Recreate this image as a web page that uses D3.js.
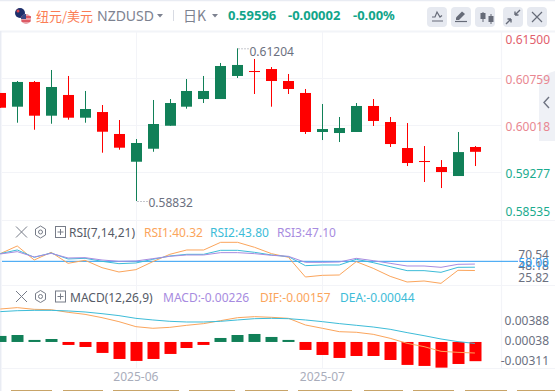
<!DOCTYPE html>
<html><head><meta charset="utf-8">
<script src="https://cdnjs.cloudflare.com/ajax/libs/d3/7.8.5/d3.min.js"></script>
<style>html,body{margin:0;padding:0;background:#fff}svg{display:block}text{font-family:"Noto Sans","Noto Sans CJK SC",sans-serif}</style>
</head><body><svg id="c" width="555" height="391"></svg>
<script>
const opens  =[.60510,.60297,.60681,.60157,.60479,.60126,.60214,.59873,.59442,.59644,.60001,.60297,.60416,.60416,.60774,.60851,.60882,.60696,.60510,.59904,.59888,.59904,.60308,.60059,.59655,.59453,.59360,.59220,.59671];
const highs  =[.60510,.60696,.60696,.60867,.60774,.60541,.60323,.60090,.59795,.60401,.60416,.60727,.60774,.60976,.61204,.61038,.60913,.60805,.60572,.60339,.60137,.60354,.60416,.60137,.60043,.59686,.59468,.59904,.59686];
const lows   =[.60281,.60048,.59939,.60032,.60095,.60048,.59582,.59629,.58832,.59597,.60001,.60266,.60354,.60416,.60743,.60494,.60297,.60494,.59873,.59779,.59748,.59904,.59997,.59671,.59375,.59127,.59033,.59220,.59375];
const closes =[.60281,.60681,.60157,.60603,.60126,.60261,.59908,.59660,.59733,.60028,.60354,.60541,.60541,.60929,.60945,.60842,.60696,.60572,.59904,.59950,.59966,.60308,.60075,.59717,.59422,.59444,.59282,.59592,.59596];
const rsi1=[58.07,66.14,51.40,59.47,47.89,51.05,43.33,38.77,41.23,49.65,57.37,61.93,61.93,70.00,70.00,64.74,58.07,54.21,33.51,35.26,35.61,49.65,42.63,34.21,28.25,29.30,26.84,40.53,40.32];
const rsi2=[58.07,61.93,54.21,58.77,52.46,53.16,50.00,47.54,48.25,52.11,55.61,57.37,57.37,61.58,61.58,59.47,56.67,54.91,45.44,46.14,46.14,52.11,48.60,44.39,40.18,40.18,38.42,43.68,43.80];
const rsi3=[57.72,60.18,54.56,58.42,53.51,53.86,51.40,50.00,50.35,52.81,55.26,56.67,56.67,59.12,59.12,58.07,56.32,55.26,48.95,48.95,49.30,53.16,50.70,47.89,45.09,45.09,43.68,46.84,47.10];
const macdHist=[.00071,.00082,.00024,.00035,-.00035,-.00059,-.00129,-.00200,-.00223,-.00200,-.00141,-.00071,-.00035,.00047,.00082,.00094,.00059,.00024,-.00094,-.00153,-.00188,-.00165,-.00165,-.00212,-.00270,-.00282,-.00302,-.00259,-.00226];
const dif=[.00361,.00377,.00357,.00353,.00322,.00298,.00259,.00212,.00153,.00134,.00145,.00169,.00189,.00224,.00259,.00271,.00263,.00251,.00173,.00134,.00094,.00087,.00063,.00016,-.00043,-.00082,-.00137,-.00149,-.00157];
const dea=[.00330,.00341,.00345,.00345,.00338,.00326,.00306,.00283,.00251,.00232,.00216,.00208,.00208,.00216,.00232,.00247,.00251,.00247,.00232,.00212,.00189,.00169,.00149,.00122,.00083,.00047,.00008,-.00023,-.00044];
const priceTicks=["0.61500","0.60759","0.60018","0.59277","0.58535"];
const rsiTicks=["70.54","48.18","25.82"];
const rsiRef=50;
const macdTicks=["0.00388","0.00038","-0.00311"];
const dateIdx=[8,19], dateLabels=["2025-06","2025-07"];
const tabSpans=[[11,52],[63,103],[113,179],[189,235],[245,288],[298,352],[364,403],[413,454],[465,507],[517,555]];

const GREEN="#118058",RED="#ff0000",OR="#fba55c",CY="#3dbcd8",PU="#a78be0",GRID="#f3f4f8",EDGE="#e9ecf3",LBL="#6b7080";
const svg=d3.select("#c");
const x=d3.scaleLinear().domain([0,28]).range([0.3,474.9]);
const yP=d3.scaleLinear().domain([.61204,.58832]).range([48.3,201]);
const yGrid=d3.scaleLinear().domain([.615,.58535]).range([31,219]);
const yR=d3.scaleLinear().domain([25.82,70.54]).range([284.3,241.8]);
const yRL=d3.scaleLinear().domain([25.82,70.54]).range([277.3,254]);
const yM=d3.scaleLinear().domain([-.00311,.00388]).range([366.1,306.7]);
const yB=d3.scaleLinear().domain([-.00311,.00388]).range([368.4,309]);
const yML=d3.scaleLinear().domain([-.00311,.00388]).range([360,320]);
const line=d3.line().x((d,i)=>x(i)).y(d=>d);

// frame
function hl(y,x1,x2,c,w){svg.append("line").attr("x1",x1).attr("x2",x2).attr("y1",y).attr("y2",y).attr("stroke",c).attr("stroke-width",w||1)}
function vl(xx,y1,y2,c,w){svg.append("line").attr("x1",xx).attr("x2",xx).attr("y1",y1).attr("y2",y2).attr("stroke",c).attr("stroke-width",w||1)}
hl(0.5,0,555,EDGE,1.5);hl(31.5,0,555,"#f2f4f8",2);vl(0.7,31,391,EDGE,1.5);
priceTicks.slice(1,4).forEach(t=>hl(Math.round(yGrid(+t))+.5,2,501,GRID));
dateIdx.forEach(i=>vl(Math.round(x(i))+.5,32,368,GRID));
hl(220.5,2,555,GRID,1.2);hl(285.5,2,555,GRID,1.2);hl(368.5,2,555,GRID,1.2);
vl(501.5,32,368,GRID,1.2);

// right tab, under the axis labels
svg.append("path").attr("d","M555 71 Q539 76 539 84 V141 H555 Z").attr("fill","#eff1f6");
svg.append("path").attr("d","M549 97 L544 102.5 L549 108").attr("fill","none").attr("stroke","#6f7482").attr("stroke-width",1.4);

// candles
const cg=svg.append("g");
opens.forEach((o,i)=>{
  const c=closes[i],col=c>o?GREEN:RED,cx=Math.round(x(i)-.3)+.5;
  cg.append("line").attr("x1",cx).attr("x2",cx).attr("y1",yP(highs[i])).attr("y2",yP(lows[i])).attr("stroke",col).attr("stroke-width",1);
  const t=yP(Math.max(o,c)),b=yP(Math.min(o,c));
  cg.append("rect").attr("x",cx-5.5).attr("y",t).attr("width",11).attr("height",Math.max(b-t,1)).attr("fill",col);
});
// hi/lo annotations
const hiI=highs.indexOf(d3.max(highs)),loI=lows.indexOf(d3.min(lows));
[[hiI,highs[hiI],3.4],[loI,lows[loI],1.3]].forEach(([i,v,dy])=>{
  const px=Math.round(x(i)-.3)+.5,py=yP(v);
  svg.append("line").attr("x1",px+1).attr("x2",px+11).attr("y1",py+.5).attr("y2",py+.5).attr("stroke","#8a8f9c").attr("stroke-dasharray","1 2");
  svg.append("text").attr("x",px+12).attr("y",py+dy).attr("dominant-baseline","central").attr("font-size",12).attr("fill",LBL).text(v.toFixed(5));
});

// price axis labels
priceTicks.forEach((t,i)=>{
  const c=Math.max(39,Math.min(211.7,yGrid(+t)+1.7));
  svg.append("text").attr("x",550).attr("y",c).attr("text-anchor","end").attr("dominant-baseline","central").attr("font-size",12)
   .attr("fill",["#e2606c","#e98791","#e98791","#1aab8e","#1aab8e"][i]).text(t);
});

// RSI
svg.append("line").attr("x1",2).attr("x2",518).attr("y1",yR(rsiRef)).attr("y2",yR(rsiRef)).attr("stroke","#2b9cf2").attr("stroke-width",1);
[[rsi1,OR],[rsi2,CY],[rsi3,PU]].forEach(([s,col])=>{
  svg.append("path").attr("d",line(s.map(yR))).attr("fill","none").attr("stroke",col).attr("stroke-width",1);
});
rsiTicks.forEach(t=>svg.append("text").attr("x",549).attr("y",yRL(+t)).attr("text-anchor","end").attr("dominant-baseline","central").attr("font-size",12).attr("fill",LBL).text(t));
svg.append("text").attr("x",549).attr("y",262.5).attr("text-anchor","end").attr("dominant-baseline","central").attr("font-size",12).attr("fill","#2b9cf2").text(rsiRef.toFixed(2));

// MACD
macdHist.forEach((v,i)=>{
  const cx=Math.round(x(i)-.3)+.5,a=yB(v),b=yB(0);
  svg.append("rect").attr("x",cx-6).attr("y",Math.min(a,b)).attr("width",12).attr("height",Math.abs(a-b)).attr("fill",v>=0?GREEN:RED);
});
[[dif,OR],[dea,CY]].forEach(([s,col])=>{
  svg.append("path").attr("d",line(s.map(yM))).attr("fill","none").attr("stroke",col).attr("stroke-width",1);
});
macdTicks.forEach(t=>svg.append("text").attr("x",549).attr("y",yML(+t)).attr("text-anchor","end").attr("dominant-baseline","central").attr("font-size",12).attr("fill",LBL).text(t));

// dates
dateIdx.forEach((i,k)=>svg.append("text").attr("x",x(i)).attr("y",376.5).attr("text-anchor","middle").attr("dominant-baseline","central").attr("font-size",12).attr("fill","#a9adbb").text(dateLabels[k]));
tabSpans.forEach(s=>svg.append("rect").attr("x",s[0]).attr("y",390).attr("width",s[1]-s[0]).attr("height",1).attr("fill","#c8a468"));

// header
function txt(xx,y,s,size,col,o){const t=svg.append("text").attr("x",xx).attr("y",y).attr("dominant-baseline","central").attr("font-size",size).attr("fill",col).text(s);
  if(o&&o.bold)t.attr("font-weight",700);if(o&&o.ls)t.attr("letter-spacing",o.ls);if(o&&o.cjk)t.style("font-family",'"Noto Sans CJK SC",sans-serif');return t}
svg.append("circle").attr("cx",20).attr("cy",13).attr("r",5).attr("fill","#1d2f6b");
svg.append("circle").attr("cx",18).attr("cy",11).attr("r",1.5).attr("fill","#d9434e");
svg.append("circle").attr("cx",26).attr("cy",19).attr("r",5).attr("fill","#e9a0a8");
svg.append("path").attr("d","M21 17 H31 M21.5 21 H30.5").attr("stroke","#d9434e").attr("stroke-width",1.3);
svg.append("path").attr("d","M22 15.5 A5 5 0 0 1 26 14 V19 H21 A5 5 0 0 1 22 15.5Z").attr("fill","#3a4a86");
txt(36,15,"纽元/美元",13,"#fb7d55",{cjk:1});
txt(97,15.5,"NZDUSD",14,"#7d8290");
svg.append("path").attr("d","M157 14 H163 L160 17.5Z").attr("fill","#7d8290");
vl(173.5,10,21,"#d8dbe3");
txt(183,14.5,"日K",14,"#7d8290",{cjk:1});
svg.append("path").attr("d","M212 14 H218 L215 17.5Z").attr("fill","#7d8290");
txt(228,14.5,"0.59596",13,"#12a58a",{bold:1});
txt(288,14.5,"-0.00002",13,"#12a58a",{bold:1});
txt(353,14.5,"-0.00%",13,"#12a58a",{bold:1});
const ic="#666b78";
[427,451,475,503,527].forEach(bx=>svg.append("rect").attr("x",bx).attr("y",7).attr("width",20).attr("height",20).attr("rx",4).attr("fill","#e6e9f0"));
function ip(d,w,f){svg.append("path").attr("d",d).attr("fill",f||"none").attr("stroke",f?"none":ic).attr("stroke-width",w||1.2)}
ip("M432 17 L435 17 L437 12 L440 17 L442 15.5 M432 21 H443");
ip("M456 20 L456 17.5 L462 11.5 L465 14 L459 20 Z",0,ic);ip("M455 21.5 H467");
ip("M483 12 V22 M491 14 V24",1);ip("M480.5 13 H485.5 V19 H480.5Z M488.5 16 H493.5 V22 H488.5Z",0,ic);
ip("M515 15 L520 10 M515 15 H518.5 M515 15 V11.5 M511 19 L506 24 M511 19 H507.5 M511 19 V22.5",1.4);
ip("M532 12 L542 22 M542 12 L532 22",1.2);

// indicator headers
function indIcons(y){
  const g=svg.append("g").attr("fill","none").attr("stroke","#777c88").attr("stroke-width",1);
  g.append("path").attr("d",`M16 ${y-5.5} L27 ${y+5.5} M27 ${y-5.5} L16 ${y+5.5}`);
  g.append("path").attr("d",`M40.5 ${y-6} L45.5 ${y-3} V${y+3} L40.5 ${y+6} L35.5 ${y+3} V${y-3}Z`);
  g.append("circle").attr("cx",40.5).attr("cy",y).attr("r",2);
  g.append("rect").attr("x",55.5).attr("y",y-5.5).attr("width",10).attr("height",11);
  g.append("path").attr("d",`M57.5 ${y} H63.5 M60.5 ${y-3} V${y+3}`);
}
indIcons(232);indIcons(296.5);
txt(69,232.5,"RSI(7,14,21)",12,"#555a66");
txt(144,232.5,"RSI1:40.32",12,OR);
txt(210,232.5,"RSI2:43.80",12,CY);
txt(277,232.5,"RSI3:47.10",12,PU);
txt(70,297,"MACD(12,26,9)",12,"#555a66");
txt(163,297,"MACD:-0.00226",12,PU);
txt(260,297,"DIF:-0.00157",12,OR);
txt(340,297,"DEA:-0.00044",12,CY);
</script></body></html>
